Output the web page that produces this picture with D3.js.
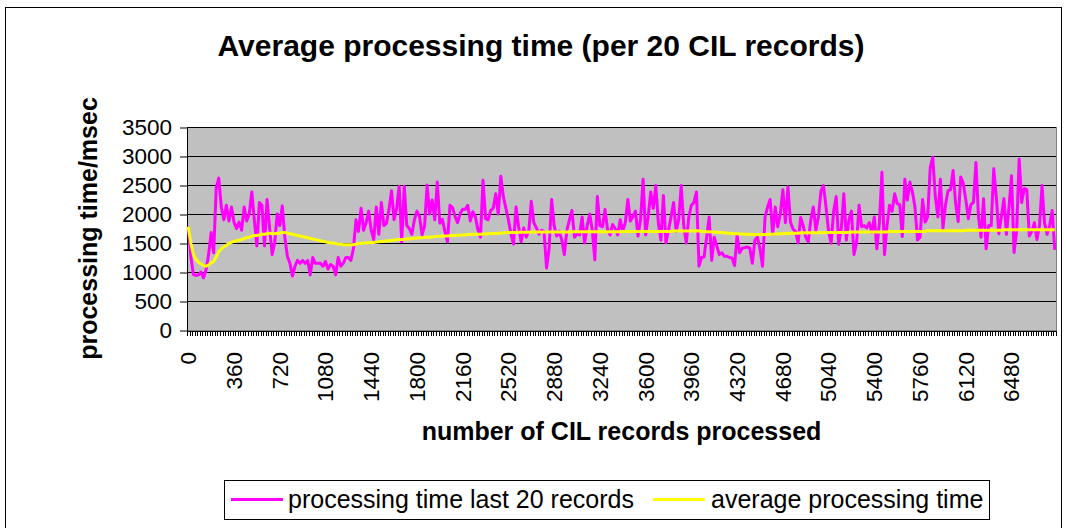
<!DOCTYPE html>
<html>
<head>
<meta charset="utf-8">
<script src="https://cdn.jsdelivr.net/npm/d3@7"></script>
<style>
  html, body { margin: 0; padding: 0; background: #fff; }
  svg { display: block; font-family: "Liberation Sans", Arial, sans-serif; }
</style>
</head>
<body>
<svg id="chart" width="1067" height="528"></svg>
<script>
// Record counter on the category axis: one category per batch of 20 CIL records
const recordCounts = d3.range(0, 6840, 20);

// Processing time (msec) of the last 20 records, one value per batch
const lastTwenty = [
  1780,1270,960,940,950,1000,900,1040,1300,1680,
  1330,2450,2620,2120,1900,2150,1880,2120,1860,1750,
  1860,1720,2120,1880,2000,2380,1900,1450,2200,2150,
  1450,2250,1770,1300,1500,2000,1800,2140,1600,1270,
  1150,930,1100,1200,1150,1200,1150,1200,950,1250,
  1150,1150,1150,1100,1180,1050,1130,1100,950,1250,
  1100,1150,1250,1250,1200,1400,1900,1700,2100,1720,
  1850,2050,1720,1560,2120,1650,2200,1800,1840,2080,
  2400,1900,2100,2480,1520,2480,1800,1750,1650,1900,
  2050,1960,1640,1790,2500,2000,2240,1900,2550,1840,
  1910,1700,1520,2150,2110,1960,1850,2010,2080,2080,
  2150,1880,2040,1950,1730,1600,2580,1920,1900,2060,
  2100,2350,2000,2650,2300,2100,1900,1650,1480,2120,
  1780,1520,1760,1600,1700,2220,1850,1760,1650,1720,
  1700,1070,1400,2250,1800,1620,1700,1550,1300,1720,
  1900,2060,1600,1650,1640,1950,1500,1800,2000,1720,
  1210,2300,1800,1780,2080,1730,1640,1820,1750,1640,
  1900,1700,1850,2250,1880,1960,2050,1620,1900,2600,
  1640,1950,2380,2100,2490,1850,1550,2320,1500,1720,
  1950,2200,1700,1900,2490,1800,1500,1950,2150,2200,
  2380,1100,1250,1260,1600,1950,1200,1600,1450,1300,
  1330,1270,1270,1250,1240,1110,1640,1330,1410,1420,
  1430,1410,1150,1550,1600,1400,1100,1950,2120,2250,
  1650,2120,1780,2000,2420,1850,2470,1860,1740,1700,
  1500,1940,1800,1600,1520,1900,2120,1720,1950,2400,
  2490,2120,1700,1495,2050,2300,1480,1750,2350,1550,
  1900,2050,1300,1500,2150,1780,1800,1760,1850,1680,
  1950,1400,1850,2720,1300,1800,2150,2050,2350,2180,
  2160,1610,2600,2240,2550,2380,2120,1550,1600,2250,
  1860,1950,2800,2980,2300,1950,2600,1750,2150,2400,
  2420,2750,2180,1870,2640,2530,2250,1920,2160,2200,
  2890,1950,1600,2265,1400,1800,1800,2780,2300,1660,
  1950,2265,1650,2120,2660,1335,1700,2950,2200,2440,
  2420,1620,1700,1850,1560,1800,2490,1840,1650,1800,
  2060,1380
];

// Average processing time (msec) since the start of the run
const runningAvg = [
  1780,1500,1300,1220,1170,1140,1110,1100,1120,1160,
  1180,1260,1350,1400,1430,1460,1490,1510,1530,1540,
  1550,1560,1580,1590,1600,1620,1630,1630,1640,1650,
  1650,1660,1670,1660,1660,1670,1670,1680,1680,1670,
  1660,1650,1640,1630,1620,1610,1600,1590,1580,1570,
  1560,1550,1540,1530,1520,1510,1500,1500,1490,1480,
  1480,1470,1470,1470,1470,1470,1480,1490,1490,1500,
  1500,1505,1510,1510,1515,1520,1525,1530,1535,1540,
  1545,1550,1555,1560,1560,1565,1570,1575,1575,1580,
  1585,1590,1590,1595,1600,1600,1605,1610,1615,1615,
  1620,1620,1620,1625,1630,1630,1635,1635,1640,1640,
  1645,1645,1650,1650,1650,1650,1655,1655,1660,1660,
  1665,1665,1670,1670,1675,1675,1680,1680,1680,1680,
  1685,1685,1685,1685,1685,1690,1690,1690,1690,1690,
  1690,1690,1690,1690,1690,1690,1690,1690,1690,1690,
  1690,1695,1695,1695,1695,1695,1695,1695,1695,1695,
  1695,1695,1695,1695,1695,1695,1695,1695,1695,1695,
  1695,1700,1700,1700,1700,1700,1700,1700,1700,1700,
  1700,1700,1700,1700,1700,1700,1700,1700,1700,1700,
  1700,1705,1705,1705,1705,1705,1705,1705,1705,1705,
  1710,1705,1700,1700,1695,1695,1690,1690,1685,1680,
  1680,1675,1670,1670,1665,1660,1660,1655,1655,1650,
  1650,1650,1645,1645,1645,1645,1645,1645,1650,1650,
  1650,1655,1655,1660,1660,1665,1665,1670,1670,1670,
  1670,1675,1675,1675,1675,1675,1675,1675,1675,1675,
  1675,1680,1680,1680,1680,1680,1680,1680,1680,1680,
  1680,1690,1690,1690,1690,1690,1690,1690,1690,1690,
  1690,1690,1690,1690,1690,1690,1700,1700,1700,1700,
  1700,1700,1700,1700,1700,1700,1700,1700,1700,1700,
  1700,1710,1710,1710,1710,1710,1710,1710,1710,1710,
  1710,1710,1710,1710,1710,1710,1720,1720,1720,1720,
  1720,1720,1720,1720,1720,1720,1720,1720,1720,1720,
  1720,1730,1730,1730,1730,1730,1730,1730,1730,1730,
  1730,1730,1730,1730,1730,1730,1730,1730,1730,1730,
  1730,1730
];

const yTicks = [0, 500, 1000, 1500, 2000, 2500, 3000, 3500];
const xTickLabels = [0, 360, 720, 1080, 1440, 1800, 2160, 2520, 2880, 3240,
                     3600, 3960, 4320, 4680, 5040, 5400, 5760, 6120, 6480];

const seriesNames = ["processing time last 20 records", "average processing time"];
const seriesColors = ["#FF00FF", "#FFFF00"];

const plot = { left: 187, right: 1056, top: 127, bottom: 330 };
const svg = d3.select("#chart");

// chart frame
svg.append("rect")
  .attr("x", 5.5).attr("y", 7.5)
  .attr("width", 1056).attr("height", 530)
  .attr("fill", "#fff").attr("stroke", "#000");

const x = d3.scaleBand().domain(recordCounts).range([plot.left, plot.right]).padding(0);
const xEdge = d3.scaleLinear().domain([0, recordCounts.length]).range([plot.left, plot.right]);
const y = d3.scaleLinear().domain([0, 3500]).range([plot.bottom, plot.top]);

// plot area
svg.append("rect")
  .attr("x", plot.left + 0.5).attr("y", plot.top + 0.5)
  .attr("width", plot.right - plot.left).attr("height", plot.bottom - plot.top)
  .attr("fill", "#C0C0C0").attr("stroke", "#808080");

// horizontal gridlines
svg.append("g")
  .selectAll("line")
  .data(yTicks.filter(d => d > 0))
  .join("line")
  .attr("x1", plot.left).attr("x2", plot.right)
  .attr("y1", d => Math.round(y(d)) + 0.5)
  .attr("y2", d => Math.round(y(d)) + 0.5)
  .attr("stroke", "#000");

// value axis
const yAxis = svg.append("g")
  .attr("transform", `translate(${plot.left},0.5)`)
  .call(d3.axisLeft(y).tickValues(yTicks).tickSize(7).tickSizeOuter(0).tickPadding(8).tickFormat(d3.format("d")));
yAxis.selectAll("path,line").attr("stroke", "#000");
yAxis.selectAll("text")
  .attr("font-family", "Liberation Sans, Arial, sans-serif")
  .attr("font-size", 22.5).attr("fill", "#000");

// category axis: a tick between every pair of categories
const xAxis = svg.append("g")
  .attr("transform", `translate(0,${plot.bottom + 0.5})`)
  .call(d3.axisBottom(xEdge).tickValues(d3.range(recordCounts.length + 1)).tickSize(5).tickSizeOuter(0).tickFormat(""));
xAxis.selectAll("path,line").attr("stroke", "#000").attr("shape-rendering", "crispEdges");

svg.append("g")
  .selectAll("text")
  .data(xTickLabels)
  .join("text")
  .attr("transform", d => `translate(${x(d) + x.bandwidth() / 2},352) rotate(-90)`)
  .attr("text-anchor", "end")
  .attr("dy", "0.35em")
  .attr("font-size", 22.5)
  .text(d => d);

// series lines
const line = d3.line()
  .x((d, i) => x(recordCounts[i]) + x.bandwidth() / 2)
  .y(d => y(d));

[lastTwenty, runningAvg].forEach((values, k) => {
  svg.append("path")
    .datum(values)
    .attr("d", line)
    .attr("fill", "none")
    .attr("stroke", seriesColors[k])
    .attr("stroke-width", 3)
    .attr("stroke-linejoin", "round");
});

// titles
svg.append("text")
  .attr("x", 541).attr("y", 56)
  .attr("text-anchor", "middle")
  .attr("font-size", 30).attr("font-weight", "bold")
  .text("Average processing time (per 20 CIL records)");

svg.append("text")
  .attr("transform", `translate(97,${(plot.top + plot.bottom) / 2}) rotate(-90)`)
  .attr("text-anchor", "middle")
  .attr("font-size", 25).attr("font-weight", "bold")
  .text("processing time/msec");

svg.append("text")
  .attr("x", (plot.left + plot.right) / 2).attr("y", 440)
  .attr("text-anchor", "middle")
  .attr("font-size", 25).attr("font-weight", "bold")
  .text("number of CIL records processed");

// legend
const legend = svg.append("g");
legend.append("rect")
  .attr("x", 224.5).attr("y", 480.5)
  .attr("width", 765).attr("height", 39)
  .attr("fill", "#fff").attr("stroke", "#000");
const legendItems = [
  { lineX: 231, textX: 288 },
  { lineX: 653, textX: 711 }
];
legendItems.forEach((item, k) => {
  legend.append("line")
    .attr("x1", item.lineX).attr("x2", item.lineX + 52)
    .attr("y1", 499.5).attr("y2", 499.5)
    .attr("stroke", seriesColors[k]).attr("stroke-width", 3);
  legend.append("text")
    .attr("x", item.textX).attr("y", 508)
    .attr("font-size", 25)
    .text(seriesNames[k]);
});
</script>
</body>
</html>
